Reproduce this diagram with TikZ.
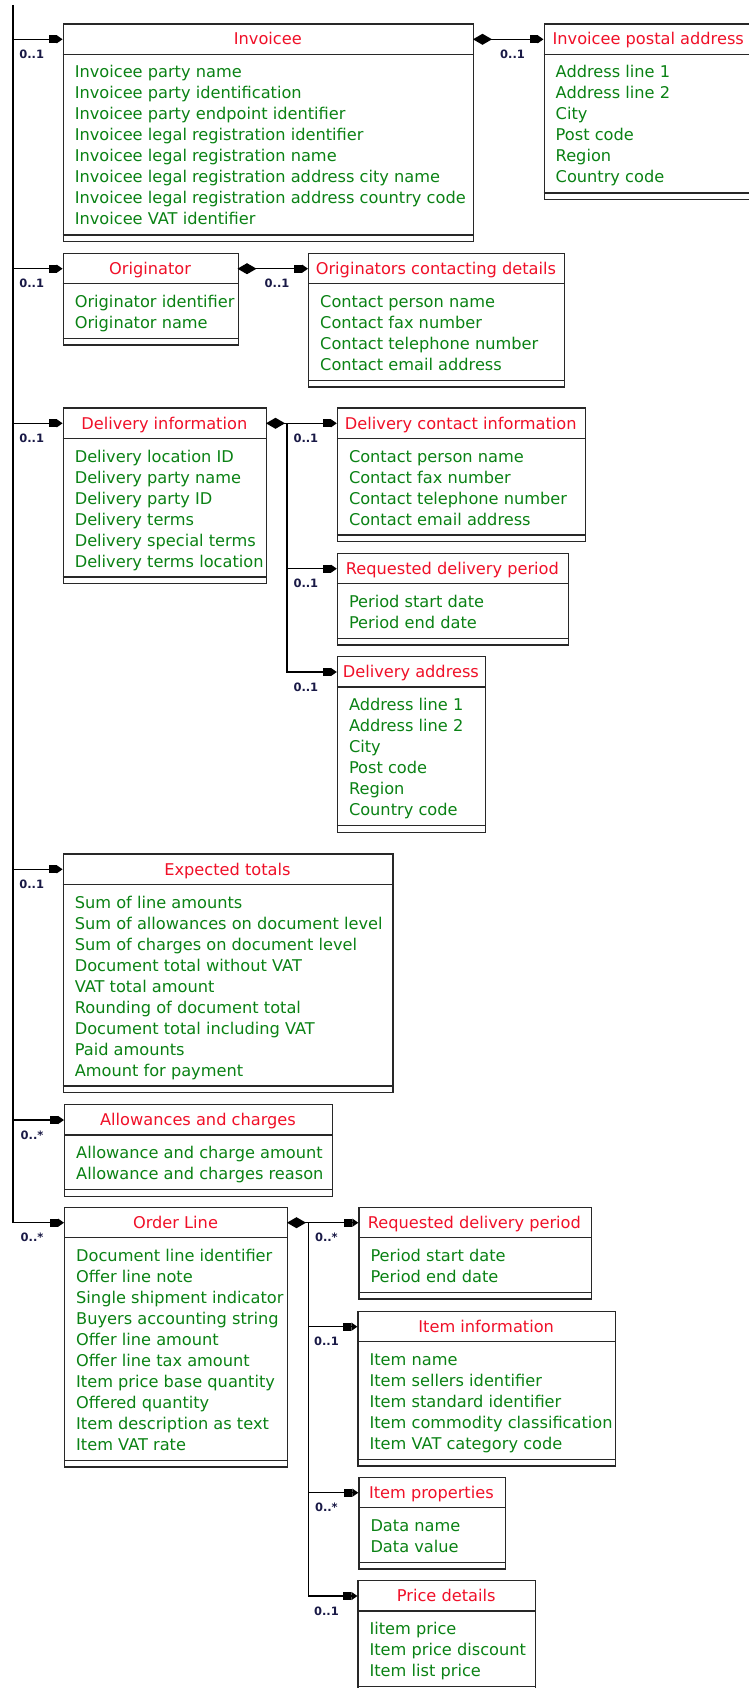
\documentclass[tikz,border=0pt]{standalone}
\usepackage{fontspec}
\setmainfont{DejaVu Sans}
\usetikzlibrary{arrows.meta,calc}
\definecolor{ttl}{RGB}{240,16,40}
\definecolor{itm}{RGB}{10,130,20}
\definecolor{mlt}{RGB}{25,25,70}
\definecolor{brd}{RGB}{40,40,40}
\tikzset{
 classbox/.style={draw=brd, line width=1.4pt, fill=white, inner sep=0pt},
 sepline/.style={draw=brd, line width=1.4pt},
 titletext/.style={text=ttl, inner sep=0pt, font=\fontsize{16.2}{21}\selectfont},
 itemtext/.style={text=itm, inner sep=0pt, font=\fontsize{16.2}{21}\selectfont},
 multtext/.style={text=mlt, inner sep=0pt, font=\bfseries\fontsize{11.5}{13}\selectfont},
 link/.style={draw=black, line width=1.3pt},
 arrowtip/.style={-{Rectangle[length=8pt,width=8pt]Triangle[length=6pt,width=8pt]}},
 diamarrow/.style={{Diamond[length=19pt,width=11pt]}-{Rectangle[length=8pt,width=8pt]Triangle[length=6pt,width=8pt]}},
 diamstart/.style={{Diamond[length=19pt,width=11pt]}-},
}
% #1 name, #2 left, #3 top, #4 right, #5 number of items, #6 title, #7 items
\newcommand{\umlclass}[7]{%
  \pgfmathsetmacro{\ucB}{#3+64.7+21*(#5-1)}%
  \pgfmathsetmacro{\ucO}{\ucB+6}%
  \pgfmathsetmacro{\ucW}{#4-#2}%
  \pgfmathsetmacro{\ucH}{\ucO-#3}%
  \node[classbox, minimum width={\ucW pt}, minimum height={\ucH pt}, anchor=north west] (#1) at (#2,#3) {};
  \coordinate (#1-in) at (#2,#3+16);
  \coordinate (#1-out) at (#4,#3+16);
  \node[titletext, anchor=base] (#1-t) at ({(#2+#4)/2},#3+21.7) {#6};
  \draw[sepline] (#2,#3+31) -- (#4,#3+31);
  \draw[sepline] (#2,\ucB) -- (#4,\ucB);
  \foreach \txt [count=\k] in {#7} {\node[itemtext, anchor=base west] (#1-\k) at (#2+12,{#3+54.7+21*(\k-1)}) {\txt};}
}
\newcommand{\mlabel}[2]{\node[multtext, anchor=west] (#1-m) at ($(#1-in)+(-43.5,15)$) {#2};}
\begin{document}
\begin{tikzpicture}[x=1pt,y=-1pt]
\useasboundingbox (0,0) rectangle (749,1688);
\fill[white] (0,0) rectangle (749,1688);
\clip (0,0) rectangle (749,1688);

\umlclass{inv}{62.6}{23.3}{473}{8}{Invoicee}{Invoicee party name,Invoicee party identification,Invoicee party endpoint identifier,Invoicee legal registration identifier,Invoicee legal registration name,Invoicee legal registration address city name,Invoicee legal registration address country code,Invoicee VAT identifier}
\umlclass{post}{543.5}{23.3}{753}{6}{Invoicee postal address}{Address line 1,Address line 2,City,Post code,Region,Country code}
\umlclass{orig}{62.6}{252.7}{237.5}{2}{Originator}{Originator identifier,Originator name}
\umlclass{occ}{308}{252.7}{563.8}{4}{Originators contacting details}{Contact person name,Contact fax number,Contact telephone number,Contact email address}
\umlclass{dinf}{62.6}{407.3}{266}{6}{Delivery information}{Delivery location ID,Delivery party name,Delivery party ID,Delivery terms,Delivery special terms,Delivery terms location}
\umlclass{dci}{336.8}{407.3}{584.8}{4}{Delivery contact information}{Contact person name,Contact fax number,Contact telephone number,Contact email address}
\umlclass{rdp}{336.8}{552.7}{568}{2}{Requested delivery period}{Period start date,Period end date}
\umlclass{dadr}{336.8}{656}{485}{6}{Delivery address}{Address line 1,Address line 2,City,Post code,Region,Country code}
\umlclass{tot}{62.6}{853.3}{392.3}{9}{Expected totals}{Sum of line amounts,Sum of allowances on document level,Sum of charges on document level,Document total without VAT,VAT total amount,Rounding of document total,Document total including VAT,Paid amounts,Amount for payment}
\umlclass{alw}{64}{1104}{332}{2}{Allowances and charges}{Allowance and charge amount,Allowance and charges reason}
\umlclass{ordl}{64}{1206.7}{287}{10}{Order Line}{Document line identifier,Offer line note,Single shipment indicator,Buyers accounting string,Offer line amount,Offer line tax amount,Item price base quantity,Offered quantity,Item description as text,Item VAT rate}
\umlclass{rdpb}{358.3}{1206.7}{590.5}{2}{Requested delivery period}{Period start date,Period end date}
\umlclass{iinf}{357.4}{1310.7}{615}{5}{Item information}{Item name,Item sellers identifier,Item standard identifier,Item commodity classification,Item VAT category code}
\umlclass{iprop}{358.3}{1476.7}{504.5}{2}{Item properties}{Data name,Data value}
\umlclass{price}{357.4}{1580}{535}{3}{Price details}{Iitem price,Item price discount,Item list price}

% trunk and main connectors
\coordinate (trk) at (13,5);
\draw[link, arrowtip] (trk) |- (ordl-in);
\foreach \c in {inv,orig,dinf,tot,alw} {\draw[link, arrowtip] (trk |- \c-in) -- (\c-in);}

% composition connectors
\draw[link, diamarrow] (inv-out) -- (post-in);
\draw[link, diamarrow] (orig-out) -- (occ-in);

\coordinate (dbr) at ($(dinf-out)+(21,0)$);
\draw[link, diamstart] (dinf-out) -- (dbr);
\draw[link, arrowtip] (dbr) -- (dci-in);
\draw[link, arrowtip] (dbr) |- (rdp-in);
\draw[link, arrowtip] (dbr) |- (dadr-in);

\coordinate (obr) at ($(ordl-out)+(21.2,0)$);
\draw[link, diamstart] (ordl-out) -- (obr);
\draw[link, arrowtip] (obr) -- (rdpb-in);
\draw[link, arrowtip] (obr) |- (iinf-in);
\draw[link, arrowtip] (obr) |- (iprop-in);
\draw[link, arrowtip] (obr) |- (price-in);

% multiplicities
\mlabel{inv}{0..1}
\mlabel{post}{0..1}
\mlabel{orig}{0..1}
\mlabel{occ}{0..1}
\mlabel{dinf}{0..1}
\mlabel{dci}{0..1}
\mlabel{rdp}{0..1}
\mlabel{dadr}{0..1}
\mlabel{tot}{0..1}
\mlabel{alw}{0..*}
\mlabel{ordl}{0..*}
\mlabel{rdpb}{0..*}
\mlabel{iinf}{0..1}
\mlabel{iprop}{0..*}
\mlabel{price}{0..1}
\end{tikzpicture}
\end{document}
